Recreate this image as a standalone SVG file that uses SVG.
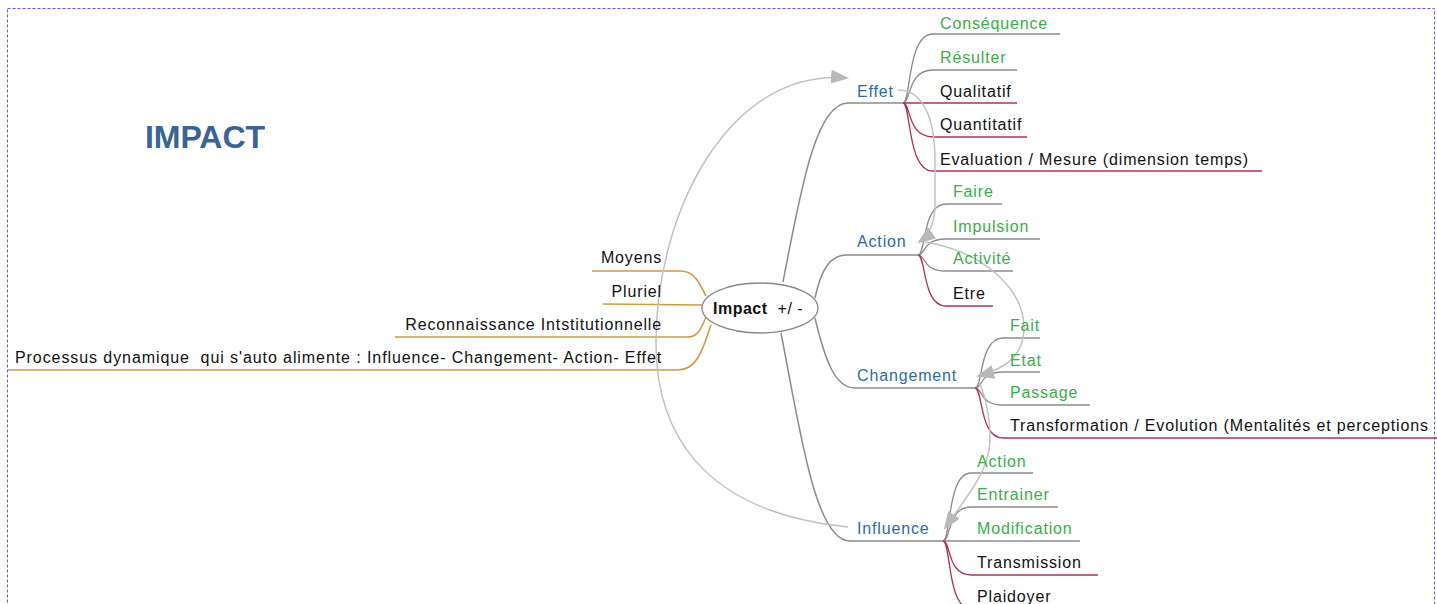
<svg xmlns="http://www.w3.org/2000/svg" width="1437" height="604" viewBox="0 0 1437 604">
<style>
text{font-family:"Liberation Sans",Arial,sans-serif;font-size:16px;letter-spacing:0.85px}
.g{fill:#3aae4a}.b{fill:#111}.bl{fill:#2f6aa3}
.br{fill:none;stroke:#8c8c8c;stroke-width:1.5}
.sg{fill:none;stroke:#8c8c8c;stroke-width:1.3}
.sm{fill:none;stroke:#b0305c;stroke-width:1.3}
.so{fill:none;stroke:#d09a45;stroke-width:1.6}
.lk{fill:none;stroke:#c2c2c2;stroke-width:1.5}
</style>
<defs>
<marker id="ah" markerUnits="userSpaceOnUse" markerWidth="18" markerHeight="14" refX="16" refY="7" orient="auto">
<path d="M0,0 L18,7 L0,14 z" fill="#b8b8b8"/>
</marker>
</defs>
<rect x="7.5" y="8.5" width="1427" height="700" fill="none" stroke="#5a5aff" stroke-width="1" stroke-dasharray="3 2"/>
<text x="145" y="148" style="font-size:32px;font-weight:bold;letter-spacing:0;fill:#3a6398" textLength="120">IMPACT</text>

<g id="connectors">
<path class="so" d="M592 271 L680 271 C696 271 700 285 706 296"/>
<path class="so" d="M603 304 L703 305"/>
<path class="so" d="M395 337 L688 337 C699 337 702 326 706 317"/>
<path class="so" d="M8 370 L678 370 C700 370 705 340 711 325"/>
<path class="br" d="M783 282 C800 195 815 103 848 103 L903 103"/>
<path class="br" d="M815 298 C821 270 830 255 846 255 L918 255"/>
<path class="br" d="M815 318 C825 360 835 388 855 388 L975 388"/>
<path class="br" d="M781 333 C800 430 815 541 850 541 L943 541"/>
<path class="sg" d="M903 103 C911 103 907 34 933 34 L1060 34"/>
<path class="sg" d="M903 103 C911 103 907 70 933 70 L1017 70"/>
<path class="sm" d="M903 103 L1017 103"/>
<path class="sm" d="M903 103 C911 103 907 137 933 137 L1027 137"/>
<path class="sm" d="M903 103 C911 103 907 171 933 171 L1262 171"/>
<path class="sg" d="M918 255 C926 255 922 204 946 204 L1002 204"/>
<path class="sg" d="M918 255 C926 255 922 239 946 239 L1040 239"/>
<path class="sg" d="M918 255 C926 255 922 271 946 271 L1013 271"/>
<path class="sm" d="M918 255 C926 255 922 306 946 306 L993 306"/>
<path class="sg" d="M975 388 C983 388 979 338 1003 338 L1040 338"/>
<path class="sg" d="M975 388 C983 388 979 372 1003 372 L1040 372"/>
<path class="sg" d="M975 388 C983 388 979 405 1003 405 L1090 405"/>
<path class="sm" d="M975 388 C983 388 979 438 1003 438 L1437 438"/>
<path class="sg" d="M943 541 C951 541 947 473 971 473 L1033 473"/>
<path class="sg" d="M943 541 C951 541 947 507 971 507 L1058 507"/>
<path class="sg" d="M943 541 L1080 541"/>
<path class="sm" d="M943 541 C951 541 947 575 971 575 L1098 575"/>
<path class="sm" d="M943 541 C951 541 947 609 971 609 L1080 609"/>
<path class="lk" marker-end="url(#ah)" d="M848 527 C700 512 655 430 656 340 C657 210 730 68 847 78"/>
<path class="lk" marker-end="url(#ah)" d="M898 90 C924 90 935 120 935 160 L935 205 C935 224 929 235 919 242"/>
<path class="lk" marker-end="url(#ah)" d="M925 242 C985 252 1025 290 1024 330 C1023 356 1005 369 978 376"/>
<path class="lk" marker-end="url(#ah)" d="M978 380 C988 400 993 435 988 455 C982 480 960 506 945 528"/>
</g>

<g id="center">
<ellipse cx="760" cy="308" rx="58" ry="25" fill="#fff" stroke="#888" stroke-width="1.3"/>
<text x="713" y="314" style="font-weight:bold;letter-spacing:0.5px" class="b">Impact<tspan style="font-weight:normal" dx="10">+/ -</tspan></text>
</g>

<g id="left-nodes">
<text x="662" y="263" text-anchor="end" class="b">Moyens</text>
<text x="662" y="297" text-anchor="end" class="b">Pluriel</text>
<text x="662" y="330" text-anchor="end" class="b">Reconnaissance Intstitutionnelle</text>
<text x="15" y="363" class="b" style="white-space:pre" xml:space="preserve" textLength="647">Processus dynamique  qui s'auto alimente : Influence- Changement- Action- Effet</text>
</g>

<g id="effet"><text x="857" y="97" class="bl">Effet</text></g>
<g id="action"><text x="857" y="247" class="bl">Action</text></g>
<g id="changement"><text x="857" y="381" class="bl">Changement</text></g>
<g id="influence"><text x="857" y="534" class="bl">Influence</text></g>

<g id="effet-children">
<text x="940" y="29" class="g">Conséquence</text>
<text x="940" y="63" class="g">Résulter</text>
<text x="940" y="97" class="b">Qualitatif</text>
<text x="940" y="130" class="b">Quantitatif</text>
<text x="940" y="165" class="b">Evaluation / Mesure (dimension temps)</text>
</g>
<g id="action-children">
<text x="953" y="197" class="g">Faire</text>
<text x="953" y="232" class="g">Impulsion</text>
<text x="953" y="264" class="g">Activité</text>
<text x="953" y="299" class="b">Etre</text>
</g>
<g id="changement-children">
<text x="1010" y="331" class="g">Fait</text>
<text x="1010" y="366" class="g">Etat</text>
<text x="1010" y="398" class="g">Passage</text>
<text x="1010" y="431" class="b">Transformation / Evolution (Mentalités et perceptions</text>
</g>
<g id="influence-children">
<text x="977" y="467" class="g">Action</text>
<text x="977" y="500" class="g">Entrainer</text>
<text x="977" y="534" class="g">Modification</text>
<text x="977" y="568" class="b">Transmission</text>
<text x="977" y="602" class="b">Plaidoyer</text>
</g>
</svg>
